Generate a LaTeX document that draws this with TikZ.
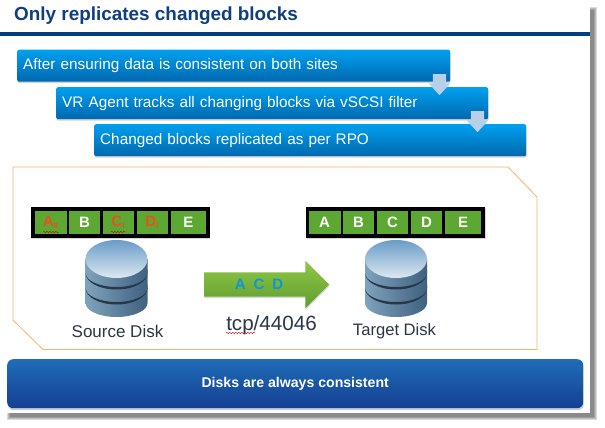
\documentclass[tikz,border=0pt]{standalone}
\usepackage{fontspec}
\setmainfont{Liberation Sans}
\usepackage{xcolor}
\usetikzlibrary{calc,shadows,shapes.arrows,decorations.pathmorphing}

\definecolor{titleblue}{HTML}{0F3F80}
\definecolor{rulecol}{HTML}{003F80}
\definecolor{boxtop}{HTML}{00A0F0}
\definecolor{boxbot}{HTML}{0068AE}
\definecolor{flowcol}{HTML}{B7CFE8}
\definecolor{framecol}{HTML}{F7B469}
\definecolor{cellgreen}{HTML}{5CA832}
\definecolor{hotred}{HTML}{E8501E}
\definecolor{acdblue}{HTML}{0A96DC}
\definecolor{bartop}{HTML}{1F6DB8}
\definecolor{barbot}{HTML}{153F92}
\definecolor{labelcol}{HTML}{2B3646}
\definecolor{sendtop}{HTML}{90C844}
\definecolor{sendbot}{HTML}{5E9C30}
\definecolor{sideleft}{HTML}{7FA3BC}
\definecolor{sidemid}{HTML}{B4D0E0}
\definecolor{sideright}{HTML}{3F6080}
\definecolor{facetop}{HTML}{6A9CC8}
\definecolor{facebot}{HTML}{DCE8F1}
\definecolor{banddark}{HTML}{26384A}

\newcommand{\lowidx}[1]{\raisebox{-2.5pt}{\fontsize{8}{8}\selectfont #1}}

\tikzset{
  stepbox/.style={anchor=north west,rounded corners=2pt,top color=boxtop,bottom color=boxbot,
    text=white,align=left,minimum height=32pt,inner xsep=6pt,inner ysep=0pt,
    font=\fontsize{15.3}{16}\selectfont,
    drop shadow={shadow xshift=0.5pt,shadow yshift=-1.5pt,opacity=0.35}},
  flowarrow/.style={single arrow,fill=flowcol,rotate=-90,inner xsep=0pt,inner ysep=6.5pt,minimum height=21pt,
    single arrow head extend=4pt,single arrow tip angle=85},
  cell/.style={fill=cellgreen,inner sep=0pt,minimum height=23pt,font=\fontsize{15}{15}\bfseries\selectfont},
  barblack/.style={fill=black,inner sep=0pt,minimum height=31pt,minimum width=179pt,
    drop shadow={shadow xshift=0.5pt,shadow yshift=-1pt,opacity=0.3}},
  disklabel/.style={text=labelcol,inner sep=0pt},
  squig/.style={red!80!black,line width=0.4pt,decorate,decoration={snake,amplitude=0.7pt,segment length=3pt}},
  platter/.pic={
    % stacked platters, bottom first
    \foreach \t/\b in {45/63,30/48,19/33}{
      \shade[left color=sideleft,middle color=sidemid,right color=sideright]
        (-31,\t) -- (-31,\b) arc[start angle=180,end angle=0,x radius=31,y radius=14] -- (31,\t) -- cycle;
    }
    \foreach \b in {48,33}{
      \fill[banddark] (-31,\b) arc[start angle=180,end angle=0,x radius=31,y radius=14]
        arc[start angle=0,end angle=180,x radius=31,y radius=16.5] -- cycle;
    }
    \shade[top color=facetop,bottom color=facebot] (0,19) ellipse [x radius=31, y radius=19];
  }
}

\begin{document}
\begin{tikzpicture}[x=1pt,y=-1pt]
  \useasboundingbox (0,0) rectangle (605,428);
  % slide and its shadow
  \foreach \d in {3,2,1,0}{\fill[black,opacity=0.14] (10-\d,10-\d) rectangle (594+\d,417+\d);}
  \fill[white] (0,0) rectangle (590,413);

  \node[anchor=west,text=titleblue,inner sep=0pt,font=\fontsize{18.9}{20}\bfseries\selectfont] (title) at (14,15.5) {Only replicates changed blocks};
  \fill[rulecol] (0,32) rectangle (590,36);

  \node[stepbox,minimum width=433pt,text width=421pt] (boxa) at (17,49.5) {After ensuring data is consistent on both sites};
  \node[stepbox,minimum width=432pt,text width=420pt] (boxb) at (56,87) {VR Agent tracks all changing blocks via vSCSI filter};
  \node[stepbox,minimum width=432pt,text width=420pt] (boxc) at (94,124) {Changed blocks replicated as per RPO};
  \node[flowarrow] (flowa) at (439.5,81) {};
  \node[flowarrow] (flowb) at (477.5,118) {};

  \draw[framecol,line width=0.8pt] (13,167)--(508,167)--(537,197)--(537,349.5)--(43,349.5)--(13,320)--cycle;

  % source blocks
  \node[barblack] (srcbar) at (120,222.5) {};
  \foreach \n/\x/\w/\c/\t in {sa/50.5/32/hotred/{A\lowidx{II}},
      sb/84.5/31/white/B,
      sc/118/31/hotred/{C\lowidx{I}},
      sd/152/31/hotred/{D\lowidx{I}},
      se/188.5/35/white/E}{
    \node[cell,minimum width=\w pt,text=\c] (\n) at (\x,222.5) {\t};
  }
  \draw[squig] (43,232)--(59,232);
  \draw[squig] (111,232)--(126,232);

  % target blocks
  \node[barblack] (tgtbar) at (395.5,222.5) {};
  \foreach \n/\x/\w/\t in {ta/324.5/32/A,tb/358.5/31/B,tc/392.5/31/C,td/426.5/31/D,te/463/36/E}{
    \node[cell,minimum width=\w pt,text=white] (\n) at (\x,222.5) {\t};
  }

  \pic at (116.5,240) {platter};
  \pic at (396,240) {platter};
  \node[disklabel,font=\fontsize{17}{18}\selectfont] (srclabel) at (117.5,331) {Source Disk};
  \node[disklabel,font=\fontsize{16.6}{18}\selectfont] (tgtlabel) at (394.5,331) {Target Disk};

  \node[single arrow,inner xsep=0pt,inner ysep=12pt,minimum height=125pt,single arrow head extend=11.5pt,
    top color=sendtop,bottom color=sendbot,
    drop shadow={shadow xshift=0.5pt,shadow yshift=-1.5pt,opacity=0.3}] (sendarrow) at (260.5,284.5) {};
  \node[text=acdblue,inner sep=0pt,font=\fontsize{15}{15}\bfseries\selectfont] (acd) at (259,284) {A\hspace{8pt}C\hspace{8pt}D};
  \node[disklabel,font=\fontsize{20.6}{22}\selectfont] (tcp) at (271.5,325) {tcp/44046};
  \draw[squig] (226,333)--(255,333);

  \node[anchor=north west,rounded corners=6pt,top color=bartop,bottom color=barbot,minimum width=576pt,minimum height=49pt,
    inner sep=0pt,text=white,font=\fontsize{14.1}{15}\bfseries\selectfont,
    drop shadow={shadow xshift=0.5pt,shadow yshift=-2pt,opacity=0.4}] (footer) at (7,359) {Disks are always consistent};
\end{tikzpicture}
\end{document}
